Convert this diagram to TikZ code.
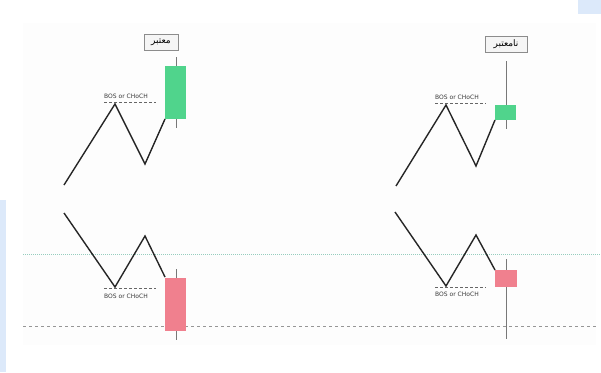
\documentclass[tikz,border=0pt]{standalone}
\usepackage{fontspec}
\setsansfont{DejaVu Sans}
\newfontfamily\arabicfont[Script=Arabic]{DejaVu Sans}
\TeXXeTstate=1
\definecolor{bullg}{RGB}{80,212,140}
\definecolor{bearr}{RGB}{240,128,142}
\definecolor{wickc}{RGB}{120,120,120}
\definecolor{teald}{RGB}{150,205,190}
\definecolor{grayd}{RGB}{150,150,150}
\definecolor{edgeb}{RGB}{220,233,250}
\definecolor{txtg}{RGB}{60,60,60}
\tikzset{
  zig/.style={line width=1.4pt, black!85, line join=miter},
  wick/.style={line width=0.9pt, wickc},
  bullbody/.style={fill=bullg, draw=none},
  bearbody/.style={fill=bearr, draw=none},
  lvl/.style={dash pattern=on 2.5pt off 2.5pt, line width=0.7pt, black!60},
  lvltxt/.style={font=\sffamily\fontsize{6}{6}\selectfont, text=txtg, inner sep=0pt},
  tag/.style={draw=black!45, fill=black!4, line width=0.6pt, inner sep=1.5pt, font=\arabicfont\fontsize{9}{10}\selectfont, minimum height=16pt},
  tealline/.style={dash pattern=on 1pt off 1pt, line width=0.7pt, teald},
  grayline/.style={dash pattern=on 3pt off 3pt, line width=0.6pt, grayd}
}
\begin{document}
\begin{tikzpicture}[x=1pt,y=-1pt]
\useasboundingbox (0,0) rectangle (601,372);
\fill[white] (0,0) rectangle (601,372);
% edge tints
\fill[edgeb] (0,200) rectangle (6,372);
\fill[edgeb] (578,0) rectangle (601,14);
\fill[black!0.6] (23,23) rectangle (596,345);
% horizontal guide lines
\coordinate (tl0) at (23,254); \coordinate (tl1) at (601,254);
\coordinate (gl0) at (23,326); \coordinate (gl1) at (596,326);
\draw[tealline] (tl0) -- (tl1);
\draw[grayline] (gl0) -- (gl1);

% ===== top-left (valid bullish) =====
\coordinate (a1) at (64,185); \coordinate (a2) at (115,104);
\coordinate (a3) at (145,164); \coordinate (a4) at (165,119);
\coordinate (aw1) at (176,57); \coordinate (aw2) at (176,128);
\coordinate (ad1) at (104,102); \coordinate (ad2) at (156,102);
\draw[wick] (aw1) -- (aw2);
\fill[bullbody] (165,66) rectangle (186,119);
\draw[lvl] (ad1) -- (ad2);
\node[lvltxt] (at) at (126,96) {BOS or CHoCH};
\draw[zig] (a1) -- (a2) -- (a3) -- (a4);
\node[tag, minimum width=34pt] (ag) at (161,42) {\beginR معتبر\endR};

% ===== top-right (invalid bullish) =====
\coordinate (b1) at (396,186); \coordinate (b2) at (446,105);
\coordinate (b3) at (476,166); \coordinate (b4) at (495,120);
\coordinate (bw1) at (506,61); \coordinate (bw2) at (506,129);
\coordinate (bd1) at (435,103); \coordinate (bd2) at (486,103);
\draw[wick] (bw1) -- (bw2);
\fill[bullbody] (495,105) rectangle (516,120);
\draw[lvl] (bd1) -- (bd2);
\node[lvltxt] (bt) at (457,97) {BOS or CHoCH};
\draw[zig] (b1) -- (b2) -- (b3) -- (b4);
\node[tag, minimum width=42pt] (bg) at (506,44) {\beginR نامعتبر\endR};

% ===== bottom-left (valid bearish) =====
\coordinate (c1) at (64,213); \coordinate (c2) at (115,287);
\coordinate (c3) at (145,236); \coordinate (c4) at (165,277);
\coordinate (cw1) at (176,269); \coordinate (cw2) at (176,340);
\coordinate (cd1) at (104,288); \coordinate (cd2) at (156,288);
\draw[wick] (cw1) -- (cw2);
\fill[bearbody] (165,278) rectangle (186,331);
\draw[lvl] (cd1) -- (cd2);
\node[lvltxt] (ct) at (126,296) {BOS or CHoCH};
\draw[zig] (c1) -- (c2) -- (c3) -- (c4);

% ===== bottom-right (invalid bearish) =====
\coordinate (d1) at (395,212); \coordinate (d2) at (446,286);
\coordinate (d3) at (476,235); \coordinate (d4) at (495,270);
\coordinate (dw1) at (506,259); \coordinate (dw2) at (506,339);
\coordinate (dd1) at (435,287); \coordinate (dd2) at (486,287);
\draw[wick] (dw1) -- (dw2);
\fill[bearbody] (495,270) rectangle (517,287);
\draw[lvl] (dd1) -- (dd2);
\node[lvltxt] (dt) at (457,294) {BOS or CHoCH};
\draw[zig] (d1) -- (d2) -- (d3) -- (d4);
\end{tikzpicture}
\end{document}
